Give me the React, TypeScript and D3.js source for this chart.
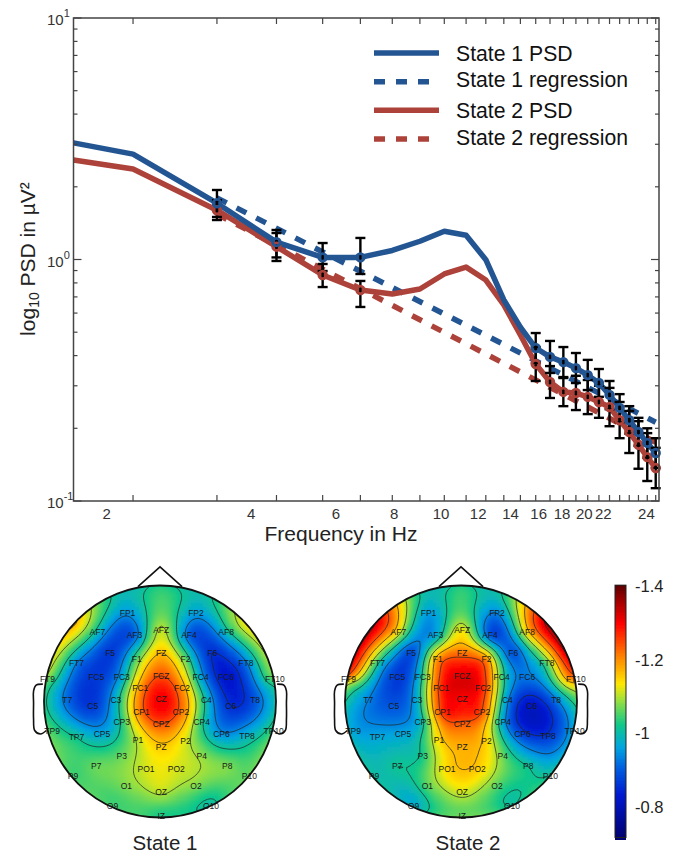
import React, { useEffect, useRef } from 'react';
import * as d3 from 'd3';

// --- PSD panel data (values in uV^2, x in Hz on the axis' own log scale)
const psdFreqs = [1.5, 2, 3, 4, 5, 6, 7, 8, 9, 10, 11, 12, 13, 14, 15, 16, 17, 18, 19, 20, 21, 22, 23, 24, 25];
const state1Psd = [3.04, 2.73, 1.71, 1.18, 1.02, 1.02, 1.09, 1.19, 1.31, 1.26, 0.998, 0.68, 0.525, 0.43, 0.395, 0.376, 0.355, 0.332, 0.308, 0.275, 0.243, 0.216, 0.193, 0.174, 0.158];
const state2Psd = [2.58, 2.37, 1.6, 1.13, 0.863, 0.748, 0.72, 0.755, 0.871, 0.93, 0.822, 0.648, 0.487, 0.369, 0.311, 0.283, 0.28, 0.27, 0.257, 0.245, 0.216, 0.193, 0.171, 0.152, 0.137];

const errFreqs = [3, 4, 5, 6, 14, 15, 16, 17, 18, 19, 20, 21, 22, 23, 24, 25];
const state1ErrHigh = [1.94, 1.325, 1.17, 1.228, 0.496, 0.46, 0.434, 0.41, 0.384, 0.352, 0.314, 0.277, 0.247, 0.221, 0.2, 0.182];
const state1ErrLow = [1.5, 1.02, 0.896, 0.871, 0.373, 0.339, 0.326, 0.308, 0.288, 0.27, 0.24, 0.212, 0.19, 0.169, 0.151, 0.137];
const state2ErrHigh = [1.76, 1.287, 0.958, 0.815, 0.434, 0.362, 0.323, 0.33, 0.317, 0.3, 0.294, 0.257, 0.236, 0.214, 0.191, 0.166];
const state2ErrLow = [1.457, 0.986, 0.769, 0.636, 0.314, 0.267, 0.247, 0.238, 0.229, 0.221, 0.204, 0.182, 0.158, 0.136, 0.121, 0.113];

const regressionFreqs = [3, 25];
const state1Regression = [1.8, 0.212];
const state2Regression = [1.54, 0.175];

const xTickFreqs = d3.range(2, 26);
// the printed labels do not sit on the ticks in the source figure
const xLabelTexts = ['2', '4', '6', '8', '10', '12', '14', '16', '18', '20', '22', '24'];
const xLabelFreqs = [1.76, 3.54, 5.33, 7.06, 8.86, 10.6, 12.4, 14.2, 15.9, 17.7, 19.4, 23.9];

const BLUE = '#235592';
const RED = '#ad423a';

const legendItems = [
  { label: 'State 1 PSD', color: BLUE, dashed: false },
  { label: 'State 1 regression', color: BLUE, dashed: true },
  { label: 'State 2 PSD', color: RED, dashed: false },
  { label: 'State 2 regression', color: RED, dashed: true },
];
const legendTextDy = [7.7, 5.3, 7.7, 6];

// --- topography data: scalp coordinates (rim = 1) and value per electrode
const electrodeNames = ['FP1', 'FP2', 'AF7', 'AF3', 'AFZ', 'AF4', 'AF8', 'FT7', 'F5', 'F1', 'FZ', 'F2', 'F6', 'FT8', 'FT9', 'FC5', 'FC3', 'FC1', 'FCZ', 'FC2', 'FC4', 'FC6', 'FT10', 'T7', 'C5', 'C3', 'CZ', 'C4', 'C6', 'T8', 'TP9', 'TP7', 'CP5', 'CP3', 'CP1', 'CPZ', 'CP2', 'CP4', 'CP6', 'TP8', 'TP10', 'P1', 'PZ', 'P2', 'P3', 'P4', 'P7', 'P8', 'P9', 'P10', 'PO1', 'PO2', 'O1', 'OZ', 'O2', 'O9', 'O10', 'IZ'];
const electrodeX = [-0.28, 0.31, -0.54, -0.22, 0.01, 0.25, 0.57, -0.72, -0.43, -0.2, 0.01, 0.22, 0.45, 0.74, -0.97, -0.55, -0.33, -0.17, 0.01, 0.19, 0.35, 0.57, 0.99, -0.8, -0.58, -0.38, 0.01, 0.4, 0.61, 0.82, -0.93, -0.72, -0.5, -0.33, -0.16, 0.01, 0.18, 0.36, 0.53, 0.75, 0.98, -0.19, 0.01, 0.22, -0.33, 0.36, -0.55, 0.58, -0.75, 0.77, -0.12, 0.14, -0.29, 0.01, 0.31, -0.41, 0.44, 0.01];
const electrodeY = [0.76, 0.76, 0.6, 0.57, 0.62, 0.57, 0.6, 0.33, 0.42, 0.37, 0.42, 0.37, 0.42, 0.33, 0.19, 0.21, 0.21, 0.12, 0.22, 0.12, 0.21, 0.21, 0.19, 0.01, -0.04, 0.01, 0.02, 0.01, -0.04, 0.01, -0.25, -0.31, -0.28, -0.18, -0.09, -0.19, -0.09, -0.18, -0.28, -0.3, -0.25, -0.33, -0.39, -0.34, -0.47, -0.47, -0.56, -0.56, -0.64, -0.64, -0.58, -0.58, -0.73, -0.78, -0.73, -0.9, -0.9, -0.99];
const state1Values = [-0.95, -0.96, -1.0, -0.91, -1.11, -0.91, -1.0, -0.94, -0.87, -1.06, -1.17, -1.06, -0.86, -0.93, -1.07, -0.87, -0.97, -1.2, -1.25, -1.2, -0.97, -0.83, -1.05, -0.92, -0.87, -0.99, -1.31, -1.0, -0.86, -0.9, -1.05, -1.02, -0.97, -1.03, -1.23, -1.25, -1.23, -1.03, -0.95, -0.99, -1.05, -1.11, -1.16, -1.12, -1.07, -1.09, -1.07, -1.08, -1.05, -1.07, -1.12, -1.12, -1.08, -1.11, -1.08, -1.05, -1.01, -1.03];
const state2Values = [-0.96, -0.94, -1.13, -0.97, -1.13, -0.9, -1.15, -1.03, -0.89, -1.2, -1.22, -1.2, -0.9, -1.06, -1.17, -0.87, -1.03, -1.28, -1.32, -1.28, -1.05, -0.93, -1.2, -0.94, -0.9, -0.98, -1.3, -0.95, -0.82, -0.93, -0.97, -0.97, -0.97, -1.01, -1.27, -1.24, -1.25, -0.97, -0.88, -0.87, -0.98, -1.15, -1.18, -1.15, -1.03, -1.07, -1.02, -1.02, -1.01, -1.02, -1.15, -1.16, -1.06, -1.12, -1.06, -0.98, -1.02, -1.07];

// unlabelled sites on the rim
const rimX = [-0.72, -0.88, -0.97, -0.45, 0, 0.72, 0.88, 0.97, 0.45];
const rimY = [0.68, 0.45, 0.2, 0.88, 1, 0.68, 0.45, 0.2, 0.88];
const rimState1 = [-1.17, -1.13, -1.08, -1.03, -1.03, -1.13, -1.1, -1.06, -1.02];
const rimState2 = [-1.32, -1.32, -1.2, -1.08, -1.03, -1.33, -1.33, -1.22, -1.08];

const contourLevels = [-1.33, -1.25, -1.17, -1.1, -1.02, -0.94, -0.86];
const colorbarTicks = [-1.4, -1.2, -1, -0.8];
const colorbarDomain = [-1.405, -0.72];
// colour ramp of the bar, bottom to top
const rampStops = [0, 0.17, 0.28, 0.36, 0.45, 0.545, 0.61, 0.705, 0.85, 1];
const rampColors = ['#00006f', '#0018d0', '#0060e0', '#00a5e0', '#10c888', '#98e040', '#ffe800', '#ff9000', '#ff0000', '#600000'];

const heads = [
  { title: 'State 1', cx: 160, titleX: 165, values: state1Values, rim: rimState1 },
  { title: 'State 2', cx: 461, titleX: 468, values: state2Values, rim: rimState2 },
];

const earX = [1.01, 1.07, 1.09, 1.09, 1.09, 1.08, 1.03, 0.98];
const earY = [0.15, 0.14, 0.09, -0.01, -0.15, -0.25, -0.28, -0.25];
const noseX = [-0.19, 0, 0.19];
const noseY = [0.99, 1.16, 0.99];

const FONT = '"Liberation Sans", Arial, sans-serif';
const GRID = 78;
const GRID_EXTENT = 1.03;

// biharmonic spline like griddata v4, which is what the topoplot uses
function greens(r: number) {
  return r > 0 ? r * r * (Math.log(r) - 1) : 0;
}

function solve(A: number[][], b: number[]) {
  const n = b.length;
  const M = A.map((row, i) => [...row, b[i]]);
  for (let c = 0; c < n; c++) {
    let p = c;
    for (let r = c + 1; r < n; r++) if (Math.abs(M[r][c]) > Math.abs(M[p][c])) p = r;
    [M[c], M[p]] = [M[p], M[c]];
    for (let r = c + 1; r < n; r++) {
      const f = M[r][c] / M[c][c];
      for (let k = c; k <= n; k++) M[r][k] -= f * M[c][k];
    }
  }
  const w = new Array(n).fill(0);
  for (let r = n - 1; r >= 0; r--) {
    let s = M[r][n];
    for (let k = r + 1; k < n; k++) s -= M[r][k] * w[k];
    w[r] = s / M[r][r];
  }
  return w;
}

function scalpField(values: number[], rim: number[]) {
  const xs = [...electrodeX, ...rimX];
  const ys = [...electrodeY, ...rimY];
  const vs = [...values, ...rim];
  const mean = d3.mean(vs) as number;
  const A = xs.map((x, i) => xs.map((x2, j) => greens(Math.hypot(x - x2, ys[i] - ys[j]))));
  const w = solve(A, vs.map((v) => v - mean));
  const cell = d3.scaleLinear().domain([0, GRID]).range([-GRID_EXTENT, GRID_EXTENT]);
  const field = new Array(GRID * GRID);
  for (let j = 0; j < GRID; j++) {
    const py = -cell(j + 0.5);
    for (let i = 0; i < GRID; i++) {
      const px = cell(i + 0.5);
      let v = mean;
      for (let k = 0; k < xs.length; k++) v += w[k] * greens(Math.hypot(px - xs[k], py - ys[k]));
      field[j * GRID + i] = v;
    }
  }
  return field;
}

export default function App() {
  const svgRef = useRef<SVGSVGElement>(null);

  useEffect(() => {
    const svg = d3.select(svgRef.current);
    svg.selectAll('*').remove();

    const box = { left: 73.5, right: 659, top: 18, bottom: 501 };
    const x = d3.scaleLog().domain([1.5, 25.4]).range([box.left, box.right]);
    const y = d3.scaleLog().domain([0.1, 10]).range([box.bottom, box.top]);

    const plot = svg.append('g').attr('font-family', FONT);

    const psdLine = (freqs: number[]) =>
      d3.line<number>().x((_, i) => x(freqs[i])).y((d) => y(d));

    // regression lines go under everything
    [
      { values: state2Regression, color: RED },
      { values: state1Regression, color: BLUE },
    ].forEach((s) => {
      plot.append('path')
        .attr('d', psdLine(regressionFreqs)(s.values))
        .attr('fill', 'none')
        .attr('stroke', s.color)
        .attr('stroke-width', 5.5)
        .attr('stroke-dasharray', '11 11');
    });

    [
      { values: state2Psd, color: RED },
      { values: state1Psd, color: BLUE },
    ].forEach((s) => {
      plot.append('path')
        .attr('d', psdLine(psdFreqs)(s.values))
        .attr('fill', 'none')
        .attr('stroke', s.color)
        .attr('stroke-width', 5.5)
        .attr('stroke-linejoin', 'round');
    });

    // error bars
    [
      { high: state2ErrHigh, low: state2ErrLow },
      { high: state1ErrHigh, low: state1ErrLow },
    ].forEach((s) => {
      const g = plot.append('g').attr('stroke', '#000').attr('stroke-width', 2.4);
      errFreqs.forEach((f, i) => {
        const px = x(f);
        g.append('line').attr('x1', px).attr('x2', px).attr('y1', y(s.high[i])).attr('y2', y(s.low[i]));
        [s.high[i], s.low[i]].forEach((v) => {
          g.append('line').attr('x1', px - 5).attr('x2', px + 5).attr('y1', y(v)).attr('y2', y(v));
        });
      });
    });

    // markers on top of the bars
    [
      { values: state2Psd, color: RED },
      { values: state1Psd, color: BLUE },
    ].forEach((s) => {
      plot.append('g').selectAll('circle')
        .data(errFreqs)
        .enter()
        .append('circle')
        .attr('cx', (f) => x(f))
        .attr('cy', (f) => y(s.values[psdFreqs.indexOf(f)]))
        .attr('r', 3.8)
        .attr('fill', 'none')
        .attr('stroke', s.color)
        .attr('stroke-width', 2.8);
    });

    // frame and ticks, all pointing inwards
    const axisColor = '#444';
    plot.append('rect')
      .attr('x', box.left).attr('y', box.top)
      .attr('width', box.right - box.left).attr('height', box.bottom - box.top)
      .attr('fill', 'none').attr('stroke', axisColor).attr('stroke-width', 1.5);

    const ticks = plot.append('g').attr('stroke', axisColor).attr('stroke-width', 1.2);
    y.ticks().forEach((v) => {
      const len = [0.1, 1, 10].includes(+v.toPrecision(3)) ? 8 : 4;
      ticks.append('line').attr('x1', box.left).attr('x2', box.left + len).attr('y1', y(v)).attr('y2', y(v));
      ticks.append('line').attr('x1', box.right).attr('x2', box.right - len).attr('y1', y(v)).attr('y2', y(v));
    });
    xTickFreqs.forEach((f) => {
      ticks.append('line').attr('x1', x(f)).attr('x2', x(f)).attr('y1', box.bottom).attr('y2', box.bottom - 6);
      ticks.append('line').attr('x1', x(f)).attr('x2', x(f)).attr('y1', box.top).attr('y2', box.top + 6);
    });

    [
      { v: 10, exp: '1' },
      { v: 1, exp: '0' },
      { v: 0.1, exp: '-1' },
    ].forEach((t) => {
      const label = plot.append('text')
        .attr('x', 47)
        .attr('y', y(t.v) + 7)
        .attr('font-size', 15)
        .attr('fill', '#333')
        .text('10');
      label.append('tspan').attr('dy', -8).attr('font-size', 11).text(t.exp);
    });

    plot.append('g').selectAll('text')
      .data(xLabelTexts)
      .enter()
      .append('text')
      .attr('x', (_, i) => x(xLabelFreqs[i]))
      .attr('y', 519)
      .attr('text-anchor', 'middle')
      .attr('font-size', 15)
      .attr('fill', '#333')
      .text((d) => d);

    plot.append('text')
      .attr('x', 341).attr('y', 541)
      .attr('text-anchor', 'middle')
      .attr('font-size', 21)
      .attr('fill', '#222')
      .text('Frequency in Hz');

    const yLabel = plot.append('text')
      .attr('transform', 'translate(35,259) rotate(-90)')
      .attr('text-anchor', 'middle')
      .attr('font-size', 21)
      .attr('fill', '#222');
    yLabel.append('tspan').text('log');
    yLabel.append('tspan').attr('font-size', 14).attr('dy', 4).text('10');
    yLabel.append('tspan').attr('dy', -4).text(' PSD in µV²');

    // legend
    const legendY = d3.scalePoint<string>().domain(legendItems.map((d) => d.label)).range([53, 139]);
    const legend = plot.append('g').selectAll('g').data(legendItems).enter().append('g');
    legend.append('line')
      .attr('x1', 374).attr('x2', 439)
      .attr('y1', (d) => legendY(d.label) as number)
      .attr('y2', (d) => legendY(d.label) as number)
      .attr('stroke', (d) => d.color)
      .attr('stroke-width', 5.5)
      .attr('stroke-dasharray', (d) => (d.dashed ? '11 11' : null));
    legend.append('text')
      .attr('x', 456)
      .attr('y', (d, i) => (legendY(d.label) as number) + legendTextDy[i])
      .attr('font-size', 21.2)
      .attr('fill', '#111')
      .text((d) => d.label);

    // topographies
    const ramp = d3.scaleLinear<string>()
      .domain(rampStops.map((t) => colorbarDomain[1] + t * (colorbarDomain[0] - colorbarDomain[1])))
      .range(rampColors)
      .clamp(true);

    const defs = svg.append('defs');
    defs.append('filter').attr('id', 'soft').append('feGaussianBlur').attr('stdDeviation', 1.3);

    heads.forEach((head, h) => {
      const cy = 701.5;
      const r = 116;
      const sx = d3.scaleLinear().domain([-1, 1]).range([head.cx - r, head.cx + r]);
      const sy = d3.scaleLinear().domain([-1, 1]).range([cy + r, cy - r]);
      const cell = d3.scaleLinear().domain([0, GRID]).range([-GRID_EXTENT, GRID_EXTENT]);
      const field = scalpField(head.values, head.rim);
      const g = svg.append('g').attr('font-family', FONT);

      defs.append('clipPath').attr('id', `scalp${h}`)
        .append('circle').attr('cx', head.cx).attr('cy', cy).attr('r', r);

      const clipped = g.append('g').attr('clip-path', `url(#scalp${h})`);
      const cellSize = sx(cell(1)) - sx(cell(0));
      clipped.append('g')
        .attr('filter', 'url(#soft)')
        .attr('shape-rendering', 'crispEdges')
        .selectAll('rect')
        .data(field as number[])
        .enter()
        .append('rect')
        .attr('x', (_, i) => sx(cell(i % GRID)))
        .attr('y', (_, i) => sy(-cell(Math.floor(i / GRID))))
        .attr('width', cellSize + 0.5)
        .attr('height', cellSize + 0.5)
        .attr('fill', (d) => ramp(d));

      const toScreen = d3.geoTransform({
        point(px, py) {
          this.stream.point(sx(cell(px)), sy(-cell(py)));
        },
      });
      clipped.append('g').selectAll('path')
        .data(d3.contours().size([GRID, GRID]).thresholds(contourLevels)(field as number[]))
        .enter()
        .append('path')
        .attr('d', d3.geoPath(toScreen) as any)
        .attr('fill', 'none')
        .attr('stroke', '#222')
        .attr('stroke-width', 0.7);

      g.append('g').selectAll('text')
        .data(electrodeNames)
        .enter()
        .append('text')
        .attr('x', (_, i) => sx(electrodeX[i]))
        .attr('y', (_, i) => sy(electrodeY[i]) + 3)
        .attr('text-anchor', 'middle')
        .attr('font-size', 8.5)
        .attr('fill', '#1a1a1a')
        .text((d) => d);

      g.append('circle')
        .attr('cx', head.cx).attr('cy', cy).attr('r', r)
        .attr('fill', 'none').attr('stroke', '#111').attr('stroke-width', 1.8);

      const outline = d3.line<number>();
      g.append('path')
        .attr('d', outline.x((d) => sx(d)).y((_, i) => sy(noseY[i]))(noseX))
        .attr('fill', 'none').attr('stroke', '#111').attr('stroke-width', 1.6);

      [1, -1].forEach((side) => {
        const ear = d3.line<number>()
          .x((d) => sx(side * d))
          .y((_, i) => sy(earY[i]))
          .curve(d3.curveCatmullRom);
        g.append('path')
          .attr('d', ear(earX))
          .attr('fill', 'none').attr('stroke', '#111').attr('stroke-width', 1.6);
      });

      g.append('text')
        .attr('x', head.titleX).attr('y', 850)
        .attr('text-anchor', 'middle')
        .attr('font-size', 20.5)
        .attr('fill', '#222')
        .text(head.title);
    });

    // colourbar
    const barY = d3.scaleLinear().domain([-1.4, -0.8]).range([587, 808]);
    const barSteps = d3.range(colorbarDomain[0], colorbarDomain[1], 0.004);
    const bar = svg.append('g').attr('font-family', FONT);
    bar.append('g').attr('shape-rendering', 'crispEdges').selectAll('rect')
      .data(barSteps)
      .enter()
      .append('rect')
      .attr('x', 615).attr('width', 11)
      .attr('y', (d) => barY(d))
      .attr('height', (d) => barY(d + 0.004) - barY(d) + 1)
      .attr('fill', (d) => ramp(d));
    bar.append('rect')
      .attr('x', 615).attr('width', 11)
      .attr('y', barY(colorbarDomain[0]))
      .attr('height', barY(colorbarDomain[1]) - barY(colorbarDomain[0]))
      .attr('fill', 'none').attr('stroke', '#222').attr('stroke-width', 1);
    bar.selectAll('text.tick')
      .data(colorbarTicks)
      .enter()
      .append('text')
      .attr('x', 635)
      .attr('y', (d) => barY(d) + 5)
      .attr('font-size', 16.5)
      .attr('fill', '#222')
      .text((d) => String(d));
  }, []);

  return (
    <svg
      ref={svgRef}
      width={675}
      height={853}
      style={{ position: 'absolute', left: 0, top: 0, background: '#fff' }}
    />
  );
}
